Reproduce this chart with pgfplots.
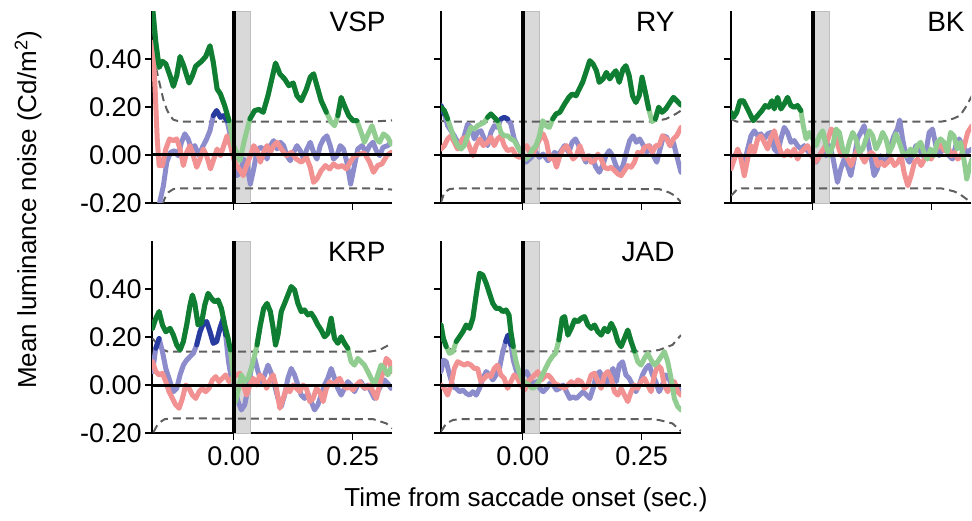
\documentclass[border=0pt]{standalone}
\usepackage{pgfplots}
\usepackage{pgfplotstable}
\pgfplotsset{compat=1.18}
\usepackage{fontspec}
\setmainfont{Liberation Sans}
\definecolor{dgreen}{RGB}{15,125,50}
\definecolor{lgreen}{RGB}{145,205,145}
\definecolor{dblue}{RGB}{40,60,160}
\definecolor{lblue}{RGB}{140,140,205}
\definecolor{lred}{RGB}{242,145,145}
\definecolor{bandgray}{RGB}{217,217,217}
\definecolor{bandedge}{RGB}{190,190,190}
\definecolor{dashc}{RGB}{95,95,95}

% ---------------- VSP ----------------
\pgfplotstableread[row sep=\\]{x y\\
-0.171 0.62\\ -0.164 0.47\\ -0.157 0.365\\ -0.150 0.39\\ -0.143 0.38\\ -0.134 0.33\\ -0.127 0.286\\ -0.120 0.33\\ -0.113 0.41\\ -0.105 0.37\\ -0.094 0.30\\ -0.087 0.33\\ -0.080 0.37\\ -0.068 0.39\\ -0.059 0.41\\ -0.050 0.455\\ -0.043 0.386\\ -0.035 0.275\\ -0.028 0.254\\ -0.019 0.205\\ -0.010 0.143\\ 0.000 0.039\\ 0.013 -0.024\\ 0.023 0.067\\ 0.034 0.15\\ 0.044 0.185\\ 0.053 0.19\\ 0.062 0.178\\ 0.072 0.247\\ 0.081 0.324\\ 0.088 0.383\\ 0.097 0.338\\ 0.107 0.317\\ 0.116 0.289\\ 0.125 0.30\\ 0.133 0.247\\ 0.142 0.226\\ 0.153 0.275\\ 0.161 0.324\\ 0.168 0.338\\ 0.175 0.289\\ 0.184 0.226\\ 0.195 0.178\\ 0.205 0.136\\ 0.212 0.122\\ 0.219 0.164\\ 0.226 0.24\\ 0.233 0.205\\ 0.242 0.164\\ 0.251 0.143\\ 0.259 0.143\\ 0.268 0.094\\ 0.275 0.053\\ 0.284 0.094\\ 0.291 0.122\\ 0.300 0.067\\ 0.307 0.053\\ 0.315 0.088\\ 0.324 0.074\\ 0.331 0.046\\
}\vspG
\pgfplotstableread[row sep=\\]{x y\\
-0.163 -0.26\\ -0.155 -0.19\\ -0.148 -0.128\\ -0.141 -0.03\\ -0.133 0.011\\ -0.124 0.018\\ -0.117 -0.003\\ -0.110 0.053\\ -0.103 0.088\\ -0.096 0.067\\ -0.089 0.025\\ -0.082 0.039\\ -0.073 -0.003\\ -0.066 0.032\\ -0.057 0.067\\ -0.050 0.101\\ -0.043 0.164\\ -0.036 0.185\\ -0.028 0.157\\ -0.021 0.164\\ -0.014 0.143\\ -0.007 0.08\\ 0.000 -0.003\\ 0.007 -0.086\\ 0.014 -0.072\\ 0.021 -0.017\\ 0.028 -0.044\\ 0.035 -0.121\\ 0.042 -0.058\\ 0.049 0.018\\ 0.056 0.032\\ 0.063 0.025\\ 0.070 -0.017\\ 0.077 0.039\\ 0.084 0.06\\ 0.091 0.025\\ 0.098 0.053\\ 0.105 0.039\\ 0.112 -0.003\\ 0.119 -0.024\\ 0.126 0.011\\ 0.133 0.039\\ 0.140 0.018\\ 0.147 -0.017\\ 0.154 0.025\\ 0.161 0.053\\ 0.168 0.011\\ 0.175 -0.017\\ 0.182 0.039\\ 0.189 0.067\\ 0.196 0.08\\ 0.203 0.039\\ 0.210 -0.017\\ 0.217 -0.003\\ 0.224 0.039\\ 0.231 0.025\\ 0.238 -0.03\\ 0.246 -0.121\\ 0.254 -0.044\\ 0.261 0.025\\ 0.270 0.039\\ 0.279 0.011\\ 0.286 0.039\\ 0.293 0.053\\ 0.300 0.018\\ 0.307 -0.003\\ 0.314 0.032\\ 0.324 0.039\\ 0.331 0.053\\
}\vspB
\pgfplotstableread[row sep=\\]{x y\\
-0.171 0.47\\ -0.166 0.30\\ -0.161 0.067\\ -0.157 -0.044\\ -0.150 -0.044\\ -0.143 0.025\\ -0.135 0.067\\ -0.127 0.06\\ -0.120 0.067\\ -0.113 0.025\\ -0.106 -0.044\\ -0.099 0.011\\ -0.092 0.039\\ -0.085 -0.003\\ -0.078 -0.051\\ -0.071 -0.017\\ -0.064 0.025\\ -0.057 -0.003\\ -0.049 -0.058\\ -0.042 -0.017\\ -0.035 0.025\\ -0.028 -0.003\\ -0.021 0.039\\ -0.014 0.08\\ -0.007 0.039\\ 0.002 -0.03\\ 0.011 -0.058\\ 0.020 -0.086\\ 0.027 -0.044\\ 0.035 -0.003\\ 0.042 0.039\\ 0.049 0.018\\ 0.056 -0.03\\ 0.063 0.011\\ 0.070 0.039\\ 0.077 0.011\\ 0.084 0.039\\ 0.091 0.053\\ 0.100 0.025\\ 0.111 -0.003\\ 0.121 0.011\\ 0.132 -0.017\\ 0.142 -0.03\\ 0.153 -0.01\\ 0.161 -0.051\\ 0.168 -0.114\\ 0.175 -0.1\\ 0.184 -0.065\\ 0.193 -0.044\\ 0.202 -0.058\\ 0.210 -0.037\\ 0.219 -0.051\\ 0.228 -0.044\\ 0.237 -0.058\\ 0.245 -0.03\\ 0.254 -0.003\\ 0.265 0.004\\ 0.275 0.008\\ 0.286 -0.03\\ 0.294 -0.072\\ 0.303 -0.044\\ 0.312 -0.037\\ 0.322 -0.003\\ 0.331 0.011\\
}\vspR
\pgfplotstableread[row sep=\\]{x y\\
-0.171 0.47\\ -0.163 0.36\\ -0.155 0.289\\ -0.148 0.23\\ -0.141 0.19\\ -0.134 0.163\\ -0.127 0.147\\ -0.113 0.139\\ 0.29 0.139\\ 0.333 0.144\\
}\vspU
\pgfplotstableread[row sep=\\]{x y\\
-0.150 -0.205\\ -0.145 -0.18\\ -0.138 -0.156\\ -0.127 -0.142\\ -0.113 -0.139\\ 0.29 -0.139\\ 0.333 -0.144\\
}\vspL

% ---------------- RY ----------------
\pgfplotstableread[row sep=\\]{x y\\
-0.172 0.199\\ -0.165 0.185\\ -0.158 0.15\\ -0.151 0.108\\ -0.144 0.067\\ -0.137 0.039\\ -0.130 0.025\\ -0.123 0.039\\ -0.116 0.08\\ -0.109 0.115\\ -0.102 0.108\\ -0.095 0.122\\ -0.088 0.129\\ -0.081 0.136\\ -0.074 0.157\\ -0.067 0.171\\ -0.060 0.157\\ -0.053 0.143\\ -0.046 0.094\\ -0.039 0.08\\ -0.032 0.08\\ -0.025 0.067\\ -0.018 0.06\\ -0.008 0.025\\ 0.000 0.004\\ 0.007 -0.017\\ 0.014 -0.003\\ 0.021 0.025\\ 0.028 0.039\\ 0.035 0.08\\ 0.042 0.143\\ 0.049 0.122\\ 0.056 0.115\\ 0.063 0.15\\ 0.070 0.171\\ 0.078 0.178\\ 0.088 0.2125\\ 0.097 0.24\\ 0.104 0.254\\ 0.112 0.247\\ 0.119 0.275\\ 0.126 0.303\\ 0.133 0.344\\ 0.141 0.393\\ 0.148 0.379\\ 0.155 0.351\\ 0.161 0.303\\ 0.169 0.317\\ 0.176 0.344\\ 0.183 0.317\\ 0.190 0.3375\\ 0.196 0.351\\ 0.203 0.303\\ 0.211 0.358\\ 0.217 0.372\\ 0.224 0.33\\ 0.231 0.247\\ 0.238 0.219\\ 0.245 0.247\\ 0.251 0.324\\ 0.258 0.261\\ 0.265 0.192\\ 0.272 0.139\\ 0.279 0.15\\ 0.286 0.199\\ 0.293 0.178\\ 0.301 0.192\\ 0.310 0.219\\ 0.317 0.24\\ 0.324 0.226\\ 0.333 0.208\\
}\ryG
\pgfplotstableread[row sep=\\]{x y\\
-0.172 0.206\\ -0.165 0.171\\ -0.158 0.122\\ -0.151 0.101\\ -0.144 0.08\\ -0.137 0.053\\ -0.130 0.039\\ -0.123 0.08\\ -0.116 0.129\\ -0.109 0.115\\ -0.102 0.067\\ -0.095 0.094\\ -0.088 0.101\\ -0.081 0.067\\ -0.074 0.039\\ -0.067 0.094\\ -0.060 0.122\\ -0.053 0.115\\ -0.046 0.15\\ -0.039 0.157\\ -0.032 0.15\\ -0.025 0.129\\ -0.018 0.067\\ -0.008 0.025\\ 0.000 -0.003\\ 0.007 -0.03\\ 0.014 -0.017\\ 0.021 -0.003\\ 0.028 0.011\\ 0.035 -0.01\\ 0.043 0.004\\ 0.053 -0.024\\ 0.060 -0.01\\ 0.067 0.011\\ 0.074 -0.003\\ 0.081 0.018\\ 0.088 0.039\\ 0.097 0.011\\ 0.104 0.053\\ 0.111 0.067\\ 0.118 0.039\\ 0.126 -0.003\\ 0.133 -0.03\\ 0.140 -0.003\\ 0.147 -0.017\\ 0.154 -0.051\\ 0.161 -0.072\\ 0.168 -0.044\\ 0.175 -0.003\\ 0.182 0.018\\ 0.189 -0.003\\ 0.196 -0.044\\ 0.203 -0.072\\ 0.211 -0.044\\ 0.218 0.011\\ 0.225 0.06\\ 0.232 0.08\\ 0.239 0.053\\ 0.246 0.067\\ 0.254 0.039\\ 0.261 0.011\\ 0.267 0.039\\ 0.275 -0.003\\ 0.282 -0.03\\ 0.289 0.025\\ 0.296 0.08\\ 0.303 0.074\\ 0.310 0.039\\ 0.317 0.053\\ 0.324 -0.003\\ 0.333 -0.072\\
}\ryB
\pgfplotstableread[row sep=\\]{x y\\
-0.172 0.025\\ -0.165 0.039\\ -0.158 0.067\\ -0.151 0.08\\ -0.144 0.053\\ -0.137 0.025\\ -0.127 0.067\\ -0.120 0.074\\ -0.113 0.039\\ -0.105 -0.003\\ -0.098 0.039\\ -0.090 0.067\\ -0.083 0.039\\ -0.074 0.053\\ -0.067 0.074\\ -0.060 0.039\\ -0.053 0.067\\ -0.046 0.08\\ -0.039 0.039\\ -0.032 0.018\\ -0.022 0.025\\ -0.014 -0.003\\ -0.007 -0.01\\ 0.000 0.025\\ 0.008 0.039\\ 0.015 0.011\\ 0.022 0.004\\ 0.029 0.039\\ 0.036 0.067\\ 0.043 0.088\\ 0.050 0.053\\ 0.057 -0.017\\ 0.064 -0.003\\ 0.071 -0.051\\ 0.078 -0.003\\ 0.085 0.025\\ 0.092 0.039\\ 0.099 0.011\\ 0.106 -0.017\\ 0.113 -0.003\\ 0.120 0.039\\ 0.130 -0.017\\ 0.137 -0.003\\ 0.144 -0.03\\ 0.151 -0.024\\ 0.158 0.004\\ 0.165 -0.017\\ 0.172 -0.051\\ 0.179 -0.058\\ 0.186 -0.051\\ 0.193 -0.065\\ 0.200 -0.079\\ 0.207 -0.086\\ 0.214 -0.065\\ 0.221 -0.044\\ 0.228 -0.051\\ 0.235 -0.03\\ 0.242 0.011\\ 0.249 0.004\\ 0.256 0.032\\ 0.265 0.039\\ 0.273 0.011\\ 0.280 0.039\\ 0.287 0.039\\ 0.294 0.08\\ 0.303 0.067\\ 0.310 0.039\\ 0.317 0.067\\ 0.324 0.08\\ 0.333 0.115\\
}\ryR
\pgfplotstableread[row sep=\\]{x y\\
-0.172 0.142\\ -0.160 0.139\\ 0.273 0.139\\ 0.301 0.15\\ 0.322 0.171\\ 0.333 0.185\\
}\ryU
\pgfplotstableread[row sep=\\]{x y\\
-0.172 -0.197\\ -0.165 -0.156\\ -0.154 -0.142\\ -0.140 -0.139\\ 0.287 -0.142\\ 0.308 -0.156\\ 0.322 -0.172\\ 0.333 -0.197\\
}\ryL

% ---------------- BK ----------------
\pgfplotstableread[row sep=\\]{x y\\
-0.172 0.178\\ -0.167 0.157\\ -0.160 0.178\\ -0.153 0.226\\ -0.146 0.226\\ -0.139 0.199\\ -0.132 0.171\\ -0.125 0.143\\ -0.116 0.164\\ -0.107 0.185\\ -0.100 0.206\\ -0.093 0.199\\ -0.086 0.226\\ -0.081 0.192\\ -0.074 0.24\\ -0.067 0.192\\ -0.060 0.2125\\ -0.053 0.24\\ -0.046 0.206\\ -0.039 0.199\\ -0.032 0.206\\ -0.025 0.185\\ -0.020 0.122\\ -0.014 0.067\\ -0.007 0.094\\ 0.000 0.067\\ 0.007 0.039\\ 0.014 0.08\\ 0.021 0.101\\ 0.028 0.039\\ 0.035 -0.003\\ 0.042 0.039\\ 0.049 0.108\\ 0.056 0.094\\ 0.063 0.025\\ 0.070 -0.003\\ 0.077 0.053\\ 0.084 0.094\\ 0.091 0.067\\ 0.098 0.011\\ 0.105 0.025\\ 0.112 0.067\\ 0.119 0.101\\ 0.126 0.08\\ 0.133 0.025\\ 0.140 0.053\\ 0.147 0.094\\ 0.154 0.067\\ 0.161 0.011\\ 0.168 0.039\\ 0.175 0.088\\ 0.182 0.053\\ 0.189 0.011\\ 0.197 -0.003\\ 0.206 0.025\\ 0.213 -0.003\\ 0.220 0.039\\ 0.227 0.053\\ 0.234 0.011\\ 0.241 -0.017\\ 0.248 0.025\\ 0.255 -0.003\\ 0.262 0.053\\ 0.269 0.067\\ 0.276 0.053\\ 0.283 0.011\\ 0.290 0.094\\ 0.297 0.08\\ 0.304 0.025\\ 0.311 0.053\\ 0.318 -0.017\\ 0.324 -0.1\\ 0.331 -0.044\\ 0.335 -0.017\\
}\bkG
\pgfplotstableread[row sep=\\]{x y\\
-0.172 -0.03\\ -0.165 -0.003\\ -0.158 0.011\\ -0.151 -0.003\\ -0.144 -0.03\\ -0.137 0.025\\ -0.130 0.08\\ -0.123 0.101\\ -0.116 0.08\\ -0.109 0.088\\ -0.102 0.067\\ -0.095 0.088\\ -0.088 0.094\\ -0.081 0.025\\ -0.074 0.011\\ -0.067 0.067\\ -0.060 0.115\\ -0.053 0.094\\ -0.046 0.053\\ -0.039 0.06\\ -0.032 0.039\\ -0.025 0.025\\ -0.018 0.039\\ -0.011 0.018\\ 0.000 -0.01\\ 0.007 -0.03\\ 0.014 -0.003\\ 0.021 0.018\\ 0.028 -0.003\\ 0.036 0.039\\ 0.043 -0.017\\ 0.052 -0.114\\ 0.059 -0.058\\ 0.066 -0.017\\ 0.073 -0.044\\ 0.080 -0.086\\ 0.087 -0.017\\ 0.094 0.067\\ 0.101 0.094\\ 0.108 0.122\\ 0.115 0.067\\ 0.122 -0.003\\ 0.129 -0.086\\ 0.136 -0.058\\ 0.143 -0.003\\ 0.150 -0.03\\ 0.157 -0.017\\ 0.164 0.039\\ 0.171 0.08\\ 0.178 0.108\\ 0.183 0.146\\ 0.189 0.067\\ 0.196 -0.003\\ 0.203 -0.03\\ 0.210 -0.003\\ 0.217 0.039\\ 0.224 0.025\\ 0.231 -0.003\\ 0.238 0.011\\ 0.245 0.094\\ 0.252 0.108\\ 0.259 0.039\\ 0.266 -0.003\\ 0.273 0.025\\ 0.280 0.039\\ 0.287 -0.003\\ 0.294 -0.017\\ 0.301 0.039\\ 0.308 0.067\\ 0.315 0.039\\ 0.324 0.011\\ 0.335 0.025\\
}\bkB
\pgfplotstableread[row sep=\\]{x y\\
-0.172 -0.058\\ -0.165 -0.017\\ -0.158 0.025\\ -0.151 -0.017\\ -0.144 -0.086\\ -0.137 -0.017\\ -0.130 0.039\\ -0.123 0.011\\ -0.116 0.067\\ -0.109 0.08\\ -0.102 0.053\\ -0.095 0.025\\ -0.088 0.074\\ -0.081 0.101\\ -0.074 0.053\\ -0.067 0.011\\ -0.060 -0.003\\ -0.053 0.018\\ -0.046 -0.003\\ -0.039 0.025\\ -0.032 -0.017\\ -0.025 0.011\\ -0.018 0.025\\ -0.011 0.039\\ -0.004 0.011\\ 0.004 -0.03\\ 0.011 -0.017\\ 0.018 0.011\\ 0.025 0.032\\ 0.032 0.067\\ 0.039 0.108\\ 0.046 0.094\\ 0.053 0.039\\ 0.060 -0.003\\ 0.066 0.011\\ 0.074 -0.017\\ 0.081 -0.044\\ 0.088 -0.003\\ 0.095 0.025\\ 0.102 -0.003\\ 0.109 -0.03\\ 0.116 -0.003\\ 0.123 0.011\\ 0.130 -0.003\\ 0.137 -0.044\\ 0.144 -0.03\\ 0.151 -0.044\\ 0.158 -0.03\\ 0.165 -0.017\\ 0.172 -0.044\\ 0.179 -0.03\\ 0.186 -0.003\\ 0.192 -0.072\\ 0.200 -0.128\\ 0.207 -0.086\\ 0.214 -0.03\\ 0.221 -0.017\\ 0.228 -0.044\\ 0.235 -0.017\\ 0.242 -0.003\\ 0.249 -0.017\\ 0.256 0.011\\ 0.263 0.039\\ 0.270 0.039\\ 0.277 0.018\\ 0.284 0.039\\ 0.291 -0.003\\ 0.298 0.011\\ 0.305 -0.017\\ 0.312 -0.003\\ 0.319 0.039\\ 0.326 0.094\\ 0.335 0.122\\
}\bkR
\pgfplotstableread[row sep=\\]{x y\\
-0.172 0.15\\ -0.160 0.139\\ 0.270 0.139\\ 0.282 0.143\\ 0.296 0.152\\ 0.310 0.164\\ 0.324 0.206\\ 0.335 0.247\\
}\bkU
\pgfplotstableread[row sep=\\]{x y\\
-0.172 -0.17\\ -0.160 -0.145\\ -0.150 -0.139\\ 0.270 -0.139\\ 0.282 -0.144\\ 0.298 -0.152\\ 0.310 -0.164\\ 0.328 -0.19\\ 0.335 -0.20\\
}\bkL

% ---------------- KRP ----------------
\pgfplotstableread[row sep=\\]{x y\\
-0.171 0.236\\ -0.164 0.278\\ -0.157 0.306\\ -0.150 0.25\\ -0.143 0.222\\ -0.134 0.236\\ -0.127 0.208\\ -0.120 0.167\\ -0.113 0.146\\ -0.106 0.181\\ -0.099 0.25\\ -0.092 0.333\\ -0.087 0.375\\ -0.082 0.34\\ -0.075 0.25\\ -0.068 0.257\\ -0.061 0.333\\ -0.054 0.382\\ -0.047 0.361\\ -0.040 0.347\\ -0.033 0.354\\ -0.026 0.319\\ -0.019 0.25\\ -0.012 0.194\\ -0.007 0.146\\ -0.001 0.042\\ 0.004 -0.069\\ 0.010 -0.014\\ 0.016 0.042\\ 0.023 0.014\\ 0.030 0.028\\ 0.037 0.069\\ 0.044 0.125\\ 0.049 0.167\\ 0.056 0.25\\ 0.063 0.319\\ 0.070 0.34\\ 0.077 0.306\\ 0.083 0.236\\ 0.088 0.167\\ 0.093 0.208\\ 0.100 0.306\\ 0.107 0.34\\ 0.114 0.375\\ 0.121 0.41\\ 0.128 0.396\\ 0.135 0.34\\ 0.142 0.306\\ 0.149 0.3125\\ 0.156 0.292\\ 0.163 0.299\\ 0.170 0.278\\ 0.177 0.25\\ 0.184 0.229\\ 0.191 0.201\\ 0.198 0.215\\ 0.205 0.278\\ 0.212 0.194\\ 0.219 0.174\\ 0.226 0.201\\ 0.233 0.174\\ 0.240 0.153\\ 0.247 0.097\\ 0.254 0.083\\ 0.261 0.111\\ 0.268 0.097\\ 0.275 0.083\\ 0.282 0.056\\ 0.289 0.028\\ 0.296 0.0\\ 0.303 0.042\\ 0.310 0.083\\ 0.317 0.069\\ 0.324 0.042\\ 0.331 0.069\\
}\krpG
\pgfplotstableread[row sep=\\]{x y\\
-0.171 0.056\\ -0.164 0.153\\ -0.157 0.194\\ -0.150 0.139\\ -0.143 0.069\\ -0.134 0.014\\ -0.127 -0.028\\ -0.120 -0.014\\ -0.113 0.042\\ -0.106 0.083\\ -0.099 0.104\\ -0.092 0.118\\ -0.085 0.132\\ -0.078 0.167\\ -0.071 0.222\\ -0.064 0.257\\ -0.057 0.264\\ -0.050 0.222\\ -0.043 0.174\\ -0.036 0.181\\ -0.029 0.236\\ -0.022 0.278\\ -0.017 0.208\\ -0.011 0.097\\ -0.005 0.028\\ 0.002 -0.014\\ 0.009 -0.069\\ 0.016 -0.104\\ 0.023 -0.083\\ 0.030 -0.014\\ 0.037 0.069\\ 0.044 0.111\\ 0.051 0.056\\ 0.058 0.014\\ 0.065 0.042\\ 0.072 0.083\\ 0.079 0.049\\ 0.086 0.0\\ 0.093 -0.056\\ 0.100 -0.09\\ 0.107 -0.042\\ 0.114 0.028\\ 0.121 0.069\\ 0.128 0.042\\ 0.135 0.0\\ 0.142 -0.042\\ 0.149 -0.056\\ 0.156 -0.035\\ 0.163 -0.069\\ 0.170 -0.104\\ 0.177 -0.083\\ 0.184 -0.042\\ 0.191 0.0\\ 0.198 0.028\\ 0.205 0.069\\ 0.212 0.028\\ 0.219 -0.014\\ 0.226 -0.042\\ 0.233 -0.014\\ 0.240 0.014\\ 0.247 0.0\\ 0.254 -0.028\\ 0.261 0.0\\ 0.268 0.014\\ 0.275 -0.014\\ 0.282 0.0\\ 0.289 -0.028\\ 0.296 -0.056\\ 0.303 -0.028\\ 0.310 0.0\\ 0.317 0.021\\ 0.324 0.007\\ 0.331 -0.014\\
}\krpB
\pgfplotstableread[row sep=\\]{x y\\
-0.171 0.097\\ -0.164 0.056\\ -0.157 0.042\\ -0.150 0.049\\ -0.143 0.014\\ -0.136 -0.028\\ -0.129 -0.056\\ -0.122 -0.083\\ -0.115 -0.097\\ -0.108 -0.056\\ -0.101 0.0\\ -0.094 -0.014\\ -0.087 -0.042\\ -0.080 -0.056\\ -0.073 -0.028\\ -0.066 -0.014\\ -0.059 -0.028\\ -0.052 -0.014\\ -0.045 0.021\\ -0.038 0.035\\ -0.031 0.014\\ -0.024 0.028\\ -0.017 0.042\\ -0.010 0.014\\ -0.003 0.028\\ 0.006 0.042\\ 0.013 0.049\\ 0.020 0.0\\ 0.027 -0.042\\ 0.034 0.0\\ 0.041 0.028\\ 0.048 0.0\\ 0.055 0.042\\ 0.062 0.028\\ 0.069 -0.014\\ 0.076 0.021\\ 0.083 0.042\\ 0.090 -0.014\\ 0.097 -0.097\\ 0.104 -0.056\\ 0.111 -0.014\\ 0.118 -0.028\\ 0.125 0.0\\ 0.132 -0.014\\ 0.139 -0.028\\ 0.146 0.0\\ 0.153 -0.014\\ 0.160 -0.069\\ 0.167 -0.056\\ 0.174 -0.014\\ 0.181 -0.028\\ 0.188 -0.069\\ 0.195 -0.014\\ 0.202 0.014\\ 0.209 0.0\\ 0.216 0.014\\ 0.223 0.028\\ 0.230 0.0\\ 0.237 -0.014\\ 0.244 -0.007\\ 0.251 -0.021\\ 0.258 0.0\\ 0.265 0.014\\ 0.272 -0.007\\ 0.279 -0.014\\ 0.286 0.0\\ 0.293 -0.028\\ 0.300 -0.056\\ 0.307 0.0\\ 0.314 0.056\\ 0.321 0.111\\ 0.328 0.097\\ 0.333 0.056\\
}\krpR
\pgfplotstableread[row sep=\\]{x y\\
-0.171 0.194\\ -0.159 0.167\\ -0.148 0.146\\ -0.138 0.139\\ 0.286 0.139\\ 0.307 0.146\\ 0.333 0.174\\
}\krpU
\pgfplotstableread[row sep=\\]{x y\\
-0.169 -0.197\\ -0.159 -0.16\\ -0.145 -0.142\\ -0.131 -0.139\\ 0.293 -0.142\\ 0.321 -0.16\\ 0.333 -0.18\\
}\krpL

% ---------------- JAD ----------------
\pgfplotstableread[row sep=\\]{x y\\
-0.172 0.25\\ -0.167 0.194\\ -0.161 0.16\\ -0.154 0.132\\ -0.147 0.139\\ -0.140 0.181\\ -0.133 0.201\\ -0.126 0.222\\ -0.119 0.25\\ -0.112 0.236\\ -0.105 0.278\\ -0.098 0.375\\ -0.091 0.465\\ -0.084 0.458\\ -0.077 0.424\\ -0.070 0.382\\ -0.063 0.34\\ -0.056 0.319\\ -0.049 0.319\\ -0.042 0.306\\ -0.035 0.3125\\ -0.029 0.292\\ -0.025 0.222\\ -0.020 0.16\\ -0.014 0.097\\ -0.008 0.056\\ -0.001 0.021\\ 0.006 0.007\\ 0.013 0.0\\ 0.020 -0.014\\ 0.027 -0.007\\ 0.034 0.014\\ 0.041 0.042\\ 0.048 0.069\\ 0.055 0.097\\ 0.062 0.118\\ 0.069 0.132\\ 0.076 0.1875\\ 0.083 0.278\\ 0.088 0.285\\ 0.095 0.208\\ 0.102 0.236\\ 0.109 0.271\\ 0.116 0.264\\ 0.123 0.278\\ 0.130 0.285\\ 0.137 0.25\\ 0.144 0.236\\ 0.151 0.25\\ 0.158 0.222\\ 0.165 0.208\\ 0.172 0.236\\ 0.179 0.222\\ 0.186 0.257\\ 0.193 0.229\\ 0.200 0.181\\ 0.207 0.16\\ 0.214 0.194\\ 0.221 0.229\\ 0.228 0.181\\ 0.235 0.141\\ 0.242 0.097\\ 0.249 0.083\\ 0.256 0.111\\ 0.263 0.132\\ 0.270 0.104\\ 0.277 0.083\\ 0.284 0.097\\ 0.291 0.118\\ 0.298 0.139\\ 0.305 0.097\\ 0.312 0.028\\ 0.319 -0.056\\ 0.326 -0.09\\ 0.333 -0.104\\
}\jadG
\pgfplotstableread[row sep=\\]{x y\\
-0.172 0.056\\ -0.167 0.104\\ -0.161 0.097\\ -0.154 0.042\\ -0.147 -0.007\\ -0.140 -0.014\\ -0.133 -0.028\\ -0.126 -0.021\\ -0.119 -0.035\\ -0.112 -0.042\\ -0.105 -0.028\\ -0.098 -0.042\\ -0.091 -0.014\\ -0.084 0.028\\ -0.077 0.056\\ -0.070 0.042\\ -0.063 0.021\\ -0.056 0.042\\ -0.049 0.069\\ -0.042 0.139\\ -0.036 0.181\\ -0.031 0.208\\ -0.025 0.167\\ -0.020 0.104\\ -0.013 0.056\\ -0.006 0.028\\ 0.001 0.042\\ 0.008 0.056\\ 0.015 0.028\\ 0.022 0.0\\ 0.029 0.014\\ 0.036 -0.014\\ 0.043 -0.028\\ 0.050 -0.014\\ 0.057 0.007\\ 0.064 0.0\\ 0.071 -0.021\\ 0.078 -0.014\\ 0.085 0.0\\ 0.092 -0.028\\ 0.099 -0.056\\ 0.106 -0.049\\ 0.113 -0.056\\ 0.120 -0.042\\ 0.127 -0.028\\ 0.134 -0.042\\ 0.141 -0.056\\ 0.148 -0.014\\ 0.155 0.042\\ 0.162 0.056\\ 0.169 0.014\\ 0.176 0.0\\ 0.183 0.042\\ 0.190 0.069\\ 0.197 0.014\\ 0.203 0.083\\ 0.210 0.097\\ 0.217 0.042\\ 0.224 0.028\\ 0.231 0.0\\ 0.238 -0.028\\ 0.245 0.0\\ 0.252 0.042\\ 0.259 0.069\\ 0.266 0.083\\ 0.273 0.042\\ 0.280 0.014\\ 0.287 -0.028\\ 0.294 0.0\\ 0.301 0.042\\ 0.308 0.028\\ 0.315 -0.014\\ 0.322 0.0\\ 0.333 -0.028\\
}\jadB
\pgfplotstableread[row sep=\\]{x y\\
-0.172 0.0\\ -0.165 -0.014\\ -0.158 -0.042\\ -0.151 0.0\\ -0.144 0.069\\ -0.137 0.097\\ -0.130 0.090\\ -0.123 0.083\\ -0.116 0.090\\ -0.109 0.083\\ -0.102 0.069\\ -0.095 0.069\\ -0.088 0.014\\ -0.081 0.028\\ -0.074 0.042\\ -0.067 0.035\\ -0.060 0.069\\ -0.053 0.083\\ -0.046 0.042\\ -0.039 0.028\\ -0.032 -0.014\\ -0.025 0.014\\ -0.018 0.042\\ -0.011 0.028\\ -0.004 0.0\\ 0.004 -0.021\\ 0.011 0.014\\ 0.018 0.028\\ 0.025 0.042\\ 0.032 0.056\\ 0.039 0.021\\ 0.046 0.035\\ 0.053 0.042\\ 0.060 0.028\\ 0.067 0.007\\ 0.074 0.0\\ 0.081 -0.007\\ 0.088 -0.014\\ 0.095 0.0\\ 0.102 0.014\\ 0.109 0.0\\ 0.116 0.021\\ 0.123 0.014\\ 0.130 -0.014\\ 0.137 0.0\\ 0.144 0.042\\ 0.151 0.049\\ 0.158 0.014\\ 0.165 -0.014\\ 0.172 0.042\\ 0.179 0.056\\ 0.186 0.028\\ 0.193 -0.028\\ 0.200 -0.042\\ 0.207 -0.014\\ 0.214 -0.042\\ 0.221 -0.069\\ 0.228 -0.028\\ 0.235 0.0\\ 0.242 -0.014\\ 0.249 0.014\\ 0.256 0.028\\ 0.263 0.0\\ 0.270 -0.028\\ 0.277 0.042\\ 0.284 0.083\\ 0.291 0.069\\ 0.298 0.0\\ 0.305 -0.028\\ 0.312 0.0\\ 0.319 0.014\\ 0.326 -0.028\\ 0.333 -0.042\\
}\jadR
\pgfplotstableread[row sep=\\]{x y\\
-0.172 0.194\\ -0.161 0.16\\ -0.147 0.142\\ -0.133 0.14\\ 0.270 0.14\\ 0.287 0.146\\ 0.315 0.167\\ 0.333 0.208\\
}\jadU
\pgfplotstableread[row sep=\\]{x y\\
-0.172 -0.194\\ -0.161 -0.16\\ -0.147 -0.146\\ -0.133 -0.142\\ 0.270 -0.142\\ 0.287 -0.146\\ 0.315 -0.16\\ 0.333 -0.192\\
}\jadL

\pgfplotsset{
  panel/.style={
    scale only axis, width=120pt, height=96pt, anchor=south west,
    xmin=-0.172, xmax=0.333, ymin=-0.2, ymax=0.6,
    axis x line*=bottom, axis y line*=left,
    axis line style={black, line width=0.6pt},
    tick align=outside, major tick length=3.5pt,
    tick style={black, line width=0.6pt},
    xtick={0,0.25}, ytick={-0.2,0,0.2,0.4},
    xticklabels={0.00,0.25}, yticklabels={-0.20,0.00,0.20,0.40},
    ticklabel style={font=\fontsize{13.5}{16}\selectfont},
    yticklabel style={inner sep=1.5pt},
    unbounded coords=jump,
  },
  lt/.style={line width=2.5pt, line join=round, line cap=round},
}
\newcommand\drawpanel[6]{%
  \addplot[fill=bandgray, draw=bandedge, line width=0.4pt] coordinates {(0,-0.2) (0.035,-0.2) (0.035,0.6) (0,0.6) (0,-0.2)};
  \addplot[dashc, line width=1pt, dash pattern=on 4pt off 2.5pt] table {#4};
  \addplot[dashc, line width=1pt, dash pattern=on 4pt off 2.5pt] table {#5};
  \addplot[lblue, lt] table {#2};
  \addplot[lred, lt] table {#3};
  \addplot[lgreen, lt] table {#1};
  \addplot[dblue, lt, restrict y to domain=0.14:10] table {#2};
  \addplot[dgreen, lt, restrict y to domain=0.14:10] table {#1};
  \addplot[black, line width=1.5pt] coordinates {(-0.172,0) (0.333,0)};
  \addplot[black, line width=2pt] coordinates {(0,-0.2) (0,0.6)};
  \node[anchor=east, inner sep=0pt, font=\fontsize{14}{16}\selectfont] at (rel axis cs:0.975,0.943) {#6};
}

\begin{document}
\begin{tikzpicture}
\begin{axis}[panel, at={(76pt,158.5pt)}, xticklabels={}]
  \drawpanel{\vspG}{\vspB}{\vspR}{\vspU}{\vspL}{VSP}
\end{axis}
\begin{axis}[panel, at={(220.5pt,158.5pt)}, xticklabels={}, yticklabels={}]
  \drawpanel{\ryG}{\ryB}{\ryR}{\ryU}{\ryL}{RY}
\end{axis}
\begin{axis}[panel, at={(365.5pt,158.5pt)}, xticklabels={}, yticklabels={}]
  \drawpanel{\bkG}{\bkB}{\bkR}{\bkU}{\bkL}{BK}
\end{axis}
\begin{axis}[panel, at={(76pt,43.5pt)}]
  \drawpanel{\krpG}{\krpB}{\krpR}{\krpU}{\krpL}{KRP}
\end{axis}
\begin{axis}[panel, at={(220.5pt,43.5pt)}, yticklabels={}]
  \drawpanel{\jadG}{\jadB}{\jadR}{\jadU}{\jadL}{JAD}
\end{axis}
\node[rotate=90, font=\fontsize{13}{15}\selectfont] at (14pt,155pt) {Mean luminance noise (Cd/m\textsuperscript{2})};
\node[font=\fontsize{13}{15}\selectfont] at (263pt,10pt) {Time from saccade onset (sec.)};
\pgfresetboundingbox
\path[use as bounding box] (0,0) rectangle (486pt,260pt);
\end{tikzpicture}
\end{document}
